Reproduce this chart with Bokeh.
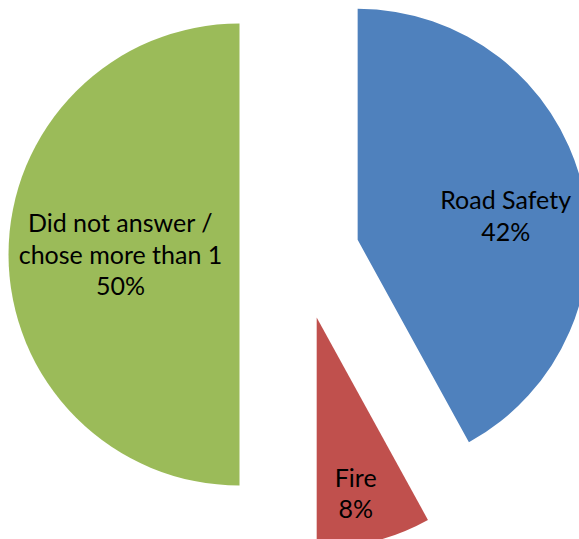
import math
from bokeh.plotting import figure
from bokeh.models import Range1d, ColumnDataSource
from bokeh.core.properties import value
from bokeh.embed import file_html
from bokeh.resources import INLINE

# ---- data ----
categories = ["Road Safety", "Fire", "Did not answer /\nchose more than 1"]
percent = [42, 8, 50]

# ---- style / layout ----
colors = ["#4F81BD", "#C0504D", "#9BBB59"]
W, H = 579, 539
CX, CY = 300, 254          # pie centre (pixels)
R = 231                    # radius (pixels)
explode = [59, 65, 61]     # explosion distance per slice
label_offset = [(148, -25), (39, 175), (-119, -1)]  # label centre relative to slice apex

p = figure(width=W, height=H, x_range=Range1d(0, W), y_range=Range1d(-H, 0),
           output_backend="svg", toolbar_location=None, min_border=0)
p.axis.visible = False
p.grid.visible = False
p.outline_line_color = None
p.background_fill_color = "white"
p.border_fill_color = "white"

total = sum(percent)
xs, ys, starts, ends, lx, ly, texts = [], [], [], [], [], [], []
cum = 0.0
for cat, pct, e, (dx, dy) in zip(categories, percent, explode, label_offset):
    t0 = 360.0 * cum / total
    t1 = 360.0 * (cum + pct) / total
    tm = math.radians((t0 + t1) / 2)
    ax = CX + e * math.sin(tm)
    ay = CY - e * math.cos(tm)
    xs.append(ax)
    ys.append(-ay)
    starts.append(math.radians(90 - t0))
    ends.append(math.radians(90 - t1))
    lx.append(ax + dx)
    ly.append(-(ay + dy))
    texts.append(f"{cat}\n{pct}%")
    cum += pct

src = ColumnDataSource(dict(x=xs, y=ys, start=starts, end=ends, color=colors))
p.wedge(x="x", y="y", radius=R, start_angle="start", end_angle="end",
        direction="clock", fill_color="color", line_color=None, source=src)

lsrc = ColumnDataSource(dict(x=lx, y=ly, text=texts))
p.text(x="x", y="y", text="text", source=lsrc, text_align="center", text_baseline="middle",
       text_font=value("Lato"), text_font_size="25px", text_line_height=1.05, text_color="black")

open("out.html", "w").write(file_html(p, INLINE))
